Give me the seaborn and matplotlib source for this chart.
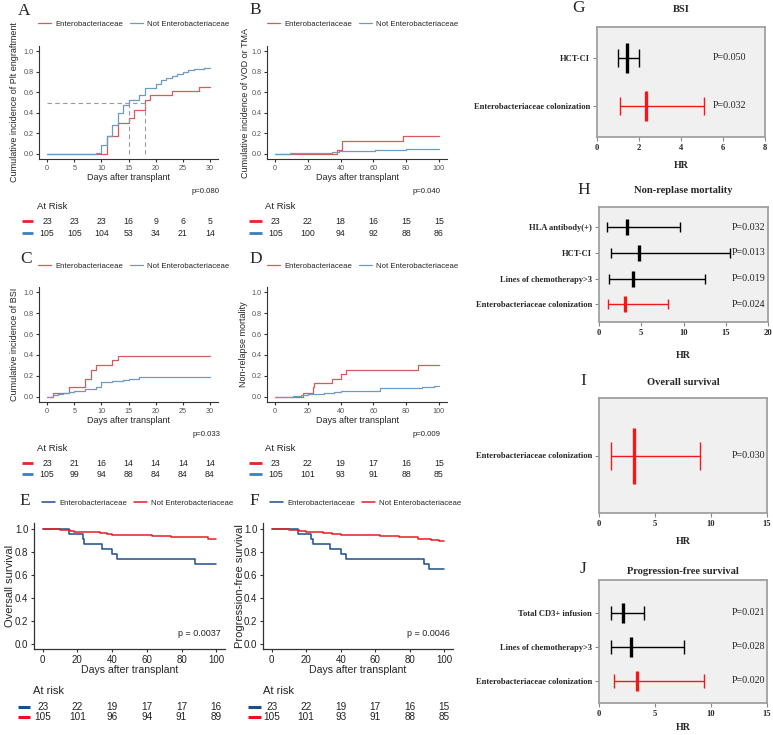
import numpy as np
import seaborn as sns
import matplotlib.pyplot as plt
import matplotlib.transforms as mtransforms
from matplotlib.ticker import FormatStrFormatter

# ---------------- values ----------------
groups = ["Enterobacteriaceae", "Not Enterobacteriaceae"]

# A  platelet engraftment
plt_ent_days = [0, 11, 13, 15, 16, 18, 19, 23, 28, 30]
plt_ent_ci = [0, 0.17, 0.30, 0.35, 0.43, 0.52, 0.57, 0.61, 0.65, 0.65]
plt_not_days = [0, 9, 10, 11, 12, 13, 14, 15, 17, 18, 20, 21, 22, 23, 24, 25, 26, 27, 29, 30]
plt_not_ci = [0, 0.01, 0.09, 0.17, 0.28, 0.40, 0.48, 0.52, 0.57, 0.64, 0.68, 0.72,
              0.74, 0.76, 0.78, 0.80, 0.82, 0.83, 0.84, 0.84]
plt_median_days = [15, 18]
short_risk_days = [0, 5, 10, 15, 20, 25, 30]
plt_risk_ent = [23, 23, 23, 16, 9, 6, 5]
plt_risk_not = [105, 105, 104, 53, 34, 21, 14]

# B  VOD or TMA
vod_ent_days = [0, 38, 41, 78, 100]
vod_ent_ci = [0, 0.04, 0.13, 0.17, 0.17]
vod_not_days = [0, 9, 35, 39, 61, 80, 100]
vod_not_ci = [0, 0.01, 0.02, 0.03, 0.04, 0.05, 0.05]
long_risk_days = [0, 20, 40, 60, 80, 100]
vod_risk_ent = [23, 22, 18, 16, 15, 15]
vod_risk_not = [105, 100, 94, 92, 88, 86]

# C  BSI
bsi_ent_days = [0, 1, 4, 7, 8, 9, 12, 13, 30]
bsi_ent_ci = [0, 0.04, 0.09, 0.17, 0.26, 0.30, 0.35, 0.39, 0.39]
bsi_not_days = [0, 1, 2, 3, 4, 5, 7, 9, 10, 12, 14, 15, 17, 30]
bsi_not_ci = [0, 0.02, 0.03, 0.04, 0.05, 0.06, 0.07, 0.09, 0.14, 0.15, 0.16, 0.17, 0.19, 0.19]
bsi_risk_ent = [23, 21, 16, 14, 14, 14, 14]
bsi_risk_not = [105, 99, 94, 88, 84, 84, 84]

# D  non-relapse mortality
nrm_ent_days = [0, 17, 23, 24, 35, 40, 43, 87, 100]
nrm_ent_ci = [0, 0.04, 0.09, 0.13, 0.17, 0.22, 0.26, 0.30, 0.30]
nrm_not_days = [0, 11, 16, 20, 30, 36, 40, 64, 90, 97, 100]
nrm_not_ci = [0, 0.01, 0.02, 0.03, 0.04, 0.05, 0.06, 0.08, 0.09, 0.10, 0.10]
nrm_risk_ent = [23, 22, 19, 17, 16, 15]
nrm_risk_not = [105, 101, 93, 91, 88, 85]

# E  overall survival
os_ent_days = [0, 15, 23, 24, 34, 40, 43, 88, 100]
os_ent_surv = [1, 0.957, 0.913, 0.870, 0.826, 0.783, 0.739, 0.696, 0.696]
os_not_days = [0, 10, 16, 18, 33, 37, 40, 63, 74, 95, 100]
os_not_surv = [1, 0.990, 0.981, 0.971, 0.962, 0.952, 0.943, 0.933, 0.924, 0.914, 0.914]
os_risk_ent = [23, 22, 19, 17, 17, 16]
os_risk_not = [105, 101, 96, 94, 91, 89]

# F  progression-free survival
pfs_ent_days = [0, 15, 23, 24, 34, 40, 43, 88, 91, 100]
pfs_ent_surv = [1, 0.957, 0.913, 0.870, 0.826, 0.783, 0.739, 0.696, 0.652, 0.652]
pfs_not_days = [0, 10, 16, 20, 30, 35, 40, 63, 74, 85, 92, 97, 100]
pfs_not_surv = [1, 0.990, 0.981, 0.971, 0.962, 0.952, 0.943, 0.933, 0.924, 0.914, 0.905, 0.895, 0.895]
pfs_risk_ent = [23, 22, 19, 17, 16, 15]
pfs_risk_not = [105, 101, 93, 91, 88, 85]

p_values = ["p=0.080", "p=0.040", "p=0.033", "p=0.009", "p = 0.0037", "p = 0.0046"]

# G-J  hazard ratios (multivariate)
bsi_vars = ["HCT-CI", "Enterobacteriaceae colonization"]
bsi_hr = [1.43, 2.35]
bsi_lo = [1.0, 1.1]
bsi_hi = [2.0, 5.1]
bsi_p = ["P=0.050", "P=0.032"]

nrm_vars = ["HLA antibody(+)", "HCT-CI", "Lines of chemotherapy>3", "Enterobacteriaceae colonization"]
nrm_hr = [3.3, 4.7, 4.0, 3.1]
nrm_lo = [1.0, 1.4, 1.2, 1.1]
nrm_hi = [9.6, 15.5, 12.5, 8.2]
nrm_p = ["P=0.032", "P=0.013", "P=0.019", "P=0.024"]

os_vars = ["Enterobacteriaceae colonization"]
os_hr = [3.1]
os_lo = [1.1]
os_hi = [9.0]
os_p = ["P=0.030"]

pfs_vars = ["Total CD3+ infusion", "Lines of chemotherapy>3", "Enterobacteriaceae colonization"]
pfs_hr = [2.1, 2.9, 3.4]
pfs_lo = [1.1, 1.1, 1.3]
pfs_hi = [4.0, 7.6, 9.4]
pfs_p = ["P=0.021", "P=0.028", "P=0.020"]

# ---------------- style ----------------
sns.set_style("ticks")
SANS = ["Liberation Sans", "DejaVu Sans"]
SERIF = ["Liberation Serif", "DejaVu Serif"]
plt.rcParams["font.family"] = SANS

AD_COLORS = ["#D65A5E", "#6E9BC4"]
AD_DASH = ["#E3262B", "#3D7EBD"]
EF_COLORS = ["#1F4E89", "#E41E26"]
EF_DASH = ["#1A4F8F", "#E8101A"]

W, H = 773, 735
fig = plt.figure(figsize=(W / 100, H / 100), dpi=100)

# overlay in pixel units for free text
ov = fig.add_axes([0, 0, 1, 1], zorder=10)
ov.set_xlim(0, W)
ov.set_ylim(H, 0)
ov.axis("off")


def px_rect(l, t, r, b):
    return [l / W, 1 - b / H, (r - l) / W, (b - t) / H]


def letter(x, y, s):
    ov.text(x, y, s, family=SERIF, fontsize=12.5, ha="left", va="center")


def km_panel(box, curves, colors, xmax, xstep, ylabel, ylab_x, xlab_y, leg_xy,
             pval, p_xy, big=False):
    l, t, r, b = box
    ax = fig.add_axes(px_rect(*box))
    lw = 1.1 if big else 0.9
    for (days, vals), name, c in zip(curves, groups, colors):
        sns.lineplot(x=days, y=vals, drawstyle="steps-post", color=c, linewidth=lw,
                     label=name, estimator=None, ax=ax)
    ax.set_xlim(-0.05 * xmax, 1.05 * xmax)
    ax.set_ylim(-0.045 if big else -0.05, 1.05)
    ax.set_xticks(np.arange(0, xmax + 1, xstep))
    ax.set_yticks(np.arange(0, 1.01, 0.2))
    ax.yaxis.set_major_formatter(FormatStrFormatter("%.1f"))
    sns.despine(ax=ax)
    for s in ["left", "bottom"]:
        ax.spines[s].set_color("#333333")
        ax.spines[s].set_linewidth(0.9 if big else 0.8)
    ax.tick_params(length=2.5, width=0.8, color="#333333", pad=1.5,
                   labelsize=7 if big else 5.2, labelcolor="#222222" if big else "#555555")
    ax.set_xlabel("")
    ax.set_ylabel("")
    ov.text(ylab_x, (t + b) / 2, ylabel, rotation=90, ha="center", va="center",
            fontsize=8 if big else 6.5)
    ov.text((l + r) / 2, xlab_y, "Days after transplant", ha="center", va="center",
            fontsize=7.6 if big else 6.5)
    ax.legend(loc="center left", bbox_to_anchor=((leg_xy[0] - l) / (r - l), 1 + (t - leg_xy[1]) / (b - t)),
              ncol=2, frameon=False, fontsize=5.6, handlelength=1.7, handletextpad=0.5,
              columnspacing=0.9, borderaxespad=0, borderpad=0)
    ov.text(p_xy[0], p_xy[1], pval, ha="right", va="center", fontsize=6.5 if big else 5.6,
            color="#222222")
    return ax


def risk_table(ax, days, counts, colors, title, title_x, title_y, rows_y, dash_x, big=False):
    tr = mtransforms.blended_transform_factory(ax.transData, ov.transData)
    ov.text(title_x, title_y, title, ha="left", va="center", fontsize=8 if big else 6.8,
            color="#222222")
    for n_row, c, y in zip(counts, colors, rows_y):
        ov.plot(dash_x, [y, y], color=c, lw=2.2 if big else 2.0, solid_capstyle="butt")
        for d, n in zip(days, n_row):
            ov.text(d, y, str(n), transform=tr, ha="center", va="center",
                    fontsize=7.2 if big else 6.3, color="#222222")


# ---- A ----
axA = km_panel((39, 46, 218, 159), [(plt_ent_days, plt_ent_ci), (plt_not_days, plt_not_ci)],
               AD_COLORS, 30, 5, "Cumulative incidence of Plt engraftment", 15, 177,
               (38, 24), p_values[0], (220, 191))
axA.hlines(0.5, 0, max(plt_median_days), colors="#999999", linestyles=(0, (4, 3)), lw=0.8)
axA.vlines(plt_median_days, 0, 0.5, colors="#999999", linestyles=(0, (4, 3)), lw=0.8)
risk_table(axA, short_risk_days, [plt_risk_ent, plt_risk_not], AD_DASH, "At Risk",
           37, 206, [221, 233], [22, 33])
letter(18, 11, "A")

# ---- B ----
axB = km_panel((267, 46, 447, 159), [(vod_ent_days, vod_ent_ci), (vod_not_days, vod_not_ci)],
               AD_COLORS, 100, 20, "Cumulative incidence of VOD or TMA", 245, 177,
               (267, 24), p_values[1], (441, 191))
risk_table(axB, long_risk_days, [vod_risk_ent, vod_risk_not], AD_DASH, "At Risk",
           265, 206, [221, 233], [249, 262])
letter(249, 10, "B")

# ---- C ----
axC = km_panel((39, 287, 218, 402), [(bsi_ent_days, bsi_ent_ci), (bsi_not_days, bsi_not_ci)],
               AD_COLORS, 30, 5, "Cumulative incidence of BSI", 15, 420,
               (38, 266), p_values[2], (220, 434))
risk_table(axC, short_risk_days, [bsi_risk_ent, bsi_risk_not], AD_DASH, "At Risk",
           37, 448, [463, 474], [22, 33])
letter(20, 259, "C")

# ---- D ----
axD = km_panel((267, 287, 447, 402), [(nrm_ent_days, nrm_ent_ci), (nrm_not_days, nrm_not_ci)],
               AD_COLORS, 100, 20, "Non-relapse mortality", 243, 420,
               (267, 266), p_values[3], (441, 434))
risk_table(axD, long_risk_days, [nrm_risk_ent, nrm_risk_not], AD_DASH, "At Risk",
           265, 448, [463, 474], [249, 262])
letter(249, 259, "D")

# ---- E ----
axE = km_panel((34, 523, 225, 649), [(os_ent_days, os_ent_surv), (os_not_days, os_not_surv)],
               EF_COLORS, 100, 20, "Oversall survival", 10, 670,
               (42, 503), p_values[4], (221, 633), big=True)
risk_table(axE, long_risk_days, [os_risk_ent, os_risk_not], EF_DASH, "At risk",
           33, 691, [707, 717], [18, 30], big=True)
letter(19, 501, "E")

# ---- F ----
axF = km_panel((263, 523, 453, 649), [(pfs_ent_days, pfs_ent_surv), (pfs_not_days, pfs_not_surv)],
               EF_COLORS, 100, 20, "Progression-free survival", 240, 670,
               (270, 503), p_values[5], (450, 633), big=True)
risk_table(axF, long_risk_days, [pfs_risk_ent, pfs_risk_not], EF_DASH, "At risk",
           263, 691, [707, 717], [248, 261], big=True)
letter(249, 501, "F")


# ---------------- forest plots ----------------
def forest(box, title, title_y, hr_y, labels, hr, lo, hi, pvals, xmax, xstep, ylim,
           thick, cap, p_x):
    l, t, r, b = box
    ax = fig.add_axes(px_rect(*box))
    ax.set_facecolor("#F0F0F0")
    rows = np.arange(1, len(labels) + 1)
    colors = ["black"] * (len(labels) - 1) + ["#F01818"]
    for y, h, lo_, hi_, c in zip(rows, hr, lo, hi, colors):
        ax.errorbar([h], [y], xerr=[[h - lo_], [hi_ - h]], fmt="none", ecolor=c,
                    elinewidth=1.0, capsize=cap, capthick=1.0)
        ax.plot([h], [y], marker="|", ms=thick, mew=2.4, color=c, ls="none")
    for y, p in zip(rows, pvals):
        ax.text(p_x, y, p, transform=mtransforms.blended_transform_factory(ax.transAxes, ax.transData),
                ha="right", va="center", family=SERIF, fontsize=7.2, color="#222222")
    ax.set_xlim(0, xmax)
    ax.set_xticks(np.arange(0, xmax + 0.1, xstep))
    ax.set_ylim(ylim[1], ylim[0])
    ax.set_yticks(rows)
    ax.set_yticklabels(labels)
    for s in ax.spines.values():
        s.set_color("#A0A0A0")
        s.set_linewidth(1.3)
    ax.tick_params(length=3, width=0.8, color="#888888", pad=2)
    for lab in ax.get_xticklabels() + ax.get_yticklabels():
        lab.set_fontfamily(SERIF)
        lab.set_fontweight("bold")
        lab.set_fontsize(6.1)
    cx = (l + r) / 2
    ov.text(cx, title_y, title, ha="center", va="center", family=SERIF,
            fontweight="bold", fontsize=7.6)
    ov.text(cx, hr_y, "HR", ha="center", va="center", family=SERIF,
            fontweight="bold", fontsize=7.2)
    return ax


forest((597, 27, 765, 137), "BSI", 9, 165, bsi_vars, bsi_hr, bsi_lo, bsi_hi, bsi_p,
       8, 2, (0.36, 2.65), 22, 6.3, 0.89)
letter(572, 8, "G")

forest((599, 207, 768, 322), "Non-replase mortality", 190, 355, nrm_vars, nrm_hr, nrm_lo,
       nrm_hi, nrm_p, 20, 5, (0.22, 4.69), 11, 3.6, 0.985)
letter(577, 190, "H")

forest((599, 398, 767, 513), "Overall survival", 382, 542, os_vars, os_hr, os_lo, os_hi,
       os_p, 15, 5, (0, 2), 41, 10, 0.99)
letter(580, 381, "I")

forest((599, 580, 767, 703), "Progression-free survival", 572, 728, pfs_vars, pfs_hr,
       pfs_lo, pfs_hi, pfs_p, 15, 5, (0.03, 3.65), 14.5, 4.7, 0.99)
letter(580, 569, "J")

fig.savefig("out.png", dpi=100)
